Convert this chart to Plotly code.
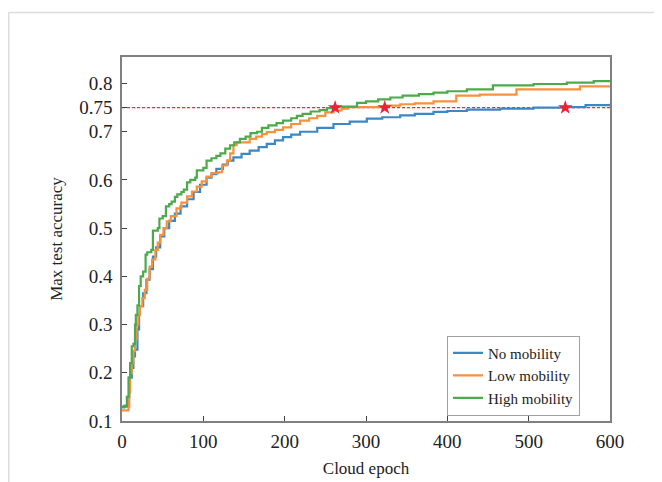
import plotly.graph_objects as go

# ---- data ----
green_x = [0, 3, 6, 8, 10, 12, 14, 16, 17, 19, 21, 23, 26, 29, 31, 36, 38, 44, 46, 50, 54, 58, 61, 65, 68, 73, 76, 80, 84, 90, 92, 100, 104, 110, 116, 121, 127, 133, 138, 145, 152, 158, 166, 172, 180, 190, 198, 208, 215, 222, 232, 243, 252, 262, 289, 300, 315, 330, 345, 365, 383, 400, 424, 456, 506, 547, 580, 600]
green_y = [0.128, 0.132, 0.15, 0.19, 0.22, 0.255, 0.26, 0.30, 0.32, 0.34, 0.38, 0.40, 0.41, 0.445, 0.45, 0.455, 0.495, 0.50, 0.52, 0.525, 0.545, 0.55, 0.555, 0.565, 0.57, 0.575, 0.58, 0.595, 0.60, 0.605, 0.62, 0.625, 0.64, 0.645, 0.65, 0.655, 0.665, 0.672, 0.678, 0.685, 0.69, 0.697, 0.70, 0.708, 0.713, 0.718, 0.723, 0.728, 0.733, 0.737, 0.742, 0.745, 0.749, 0.752, 0.76, 0.763, 0.767, 0.771, 0.775, 0.778, 0.781, 0.784, 0.788, 0.796, 0.799, 0.802, 0.805, 0.806]

orange_x = [0, 8, 9, 10, 12, 14, 16, 18, 20, 22, 25, 28, 31, 34, 37, 41, 44, 47, 51, 55, 60, 67, 73, 80, 86, 92, 98, 104, 110, 118, 123, 129, 133, 137, 141, 157, 165, 172, 178, 188, 198, 208, 219, 230, 240, 250, 260, 270, 278, 323, 342, 360, 383, 411, 440, 485, 563, 600]
orange_y = [0.122, 0.13, 0.16, 0.20, 0.22, 0.245, 0.27, 0.30, 0.32, 0.338, 0.355, 0.372, 0.395, 0.42, 0.435, 0.455, 0.47, 0.486, 0.50, 0.514, 0.525, 0.541, 0.553, 0.566, 0.576, 0.586, 0.597, 0.607, 0.614, 0.616, 0.63, 0.64, 0.655, 0.672, 0.678, 0.685, 0.69, 0.695, 0.699, 0.704, 0.709, 0.716, 0.723, 0.728, 0.733, 0.74, 0.744, 0.748, 0.751, 0.754, 0.757, 0.759, 0.763, 0.775, 0.777, 0.788, 0.794, 0.795]

blue_x = [0, 7, 9, 12, 14, 16, 19, 21, 22, 26, 30, 34, 38, 42, 47, 52, 58, 65, 72, 80, 88, 96, 104, 110, 116, 124, 130, 137, 147, 157, 168, 178, 188, 198, 208, 219, 240, 260, 280, 301, 320, 342, 360, 383, 400, 424, 465, 506, 545, 570, 600]
blue_y = [0.13, 0.15, 0.19, 0.21, 0.234, 0.248, 0.29, 0.32, 0.338, 0.365, 0.393, 0.415, 0.441, 0.46, 0.483, 0.50, 0.515, 0.53, 0.545, 0.56, 0.575, 0.59, 0.605, 0.612, 0.623, 0.632, 0.64, 0.647, 0.654, 0.661, 0.668, 0.675, 0.682, 0.689, 0.694, 0.70, 0.708, 0.716, 0.721, 0.727, 0.73, 0.734, 0.737, 0.741, 0.743, 0.746, 0.748, 0.750, 0.751, 0.755, 0.758]

target_acc = 0.75
star_x = [262, 323, 545]
star_y = [0.75, 0.75, 0.75]

y_ticks = [0.1, 0.2, 0.3, 0.4, 0.5, 0.6, 0.7, 0.75, 0.8]
y_tick_text = ["0.1", "0.2", "0.3", "0.4", "0.5", "0.6", "0.7", "0.75", "0.8"]
x_ticks = [0, 100, 200, 300, 400, 500, 600]

FONT = "Liberation Serif"
BLUE, ORANGE, GREEN = "#3b88c4", "#f7913d", "#4caa4c"

fig = go.Figure()
fig.add_trace(go.Scatter(x=[0, 600], y=[target_acc, target_acc], mode="lines",
                         line=dict(color="#ff2a2a", width=1.1, dash="3px,2px"),
                         showlegend=False, hoverinfo="skip"))
fig.add_trace(go.Scatter(x=blue_x, y=blue_y, mode="lines", name="No mobility",
                         line=dict(color=BLUE, width=2.2, shape="hv")))
fig.add_trace(go.Scatter(x=orange_x, y=orange_y, mode="lines", name="Low mobility",
                         line=dict(color=ORANGE, width=2.2, shape="hv")))
fig.add_trace(go.Scatter(x=green_x, y=green_y, mode="lines", name="High mobility",
                         line=dict(color=GREEN, width=2.2, shape="hv")))
fig.add_trace(go.Scatter(x=star_x, y=star_y, mode="markers", showlegend=False,
                         marker=dict(symbol="star", size=11, color="#ee2233",
                                     line=dict(width=0))))

axis_common = dict(showgrid=False, zeroline=False, showline=True, mirror=True,
                   linecolor="#808080", linewidth=1.5, ticks="inside", ticklen=5,
                   tickcolor="#404040", tickwidth=1,
                   tickfont=dict(family=FONT, size=19, color="#222"))

fig.update_xaxes(range=[0, 600], tickvals=x_ticks, ticklabelstandoff=2,
                 title=dict(text="Cloud epoch", font=dict(family=FONT, size=17, color="#222"), standoff=12),
                 **axis_common)
fig.update_yaxes(range=[0.1, 0.855], tickvals=y_ticks, ticktext=y_tick_text, ticklabelstandoff=4,
                 title=dict(text="Max test accuracy", font=dict(family=FONT, size=17, color="#222"), standoff=12),
                 **axis_common)

# light page frame (top and left)
x0 = (0.75 - 114) / 488
y1 = (413 - 4.5) / 364
fig.add_shape(type="line", xref="paper", yref="paper", x0=x0, x1=1.2, y0=y1, y1=y1,
              line=dict(color="#dcdcdc", width=1.5))
fig.add_shape(type="line", xref="paper", yref="paper", x0=x0, x1=x0, y0=y1, y1=-0.3,
              line=dict(color="#dcdcdc", width=1.5))

fig.update_layout(
    width=662, height=482,
    margin=dict(l=114, r=60, t=49, b=69),
    paper_bgcolor="white", plot_bgcolor="white",
    font=dict(family=FONT, color="#222"),
    legend=dict(x=0.9385, y=0.015, xanchor="right", yanchor="bottom",
                bgcolor="white", bordercolor="#a0a0a0", borderwidth=1,
                font=dict(family=FONT, size=15, color="#222"),
                tracegroupgap=0, itemwidth=30),
)

fig.write_html("out.html")
